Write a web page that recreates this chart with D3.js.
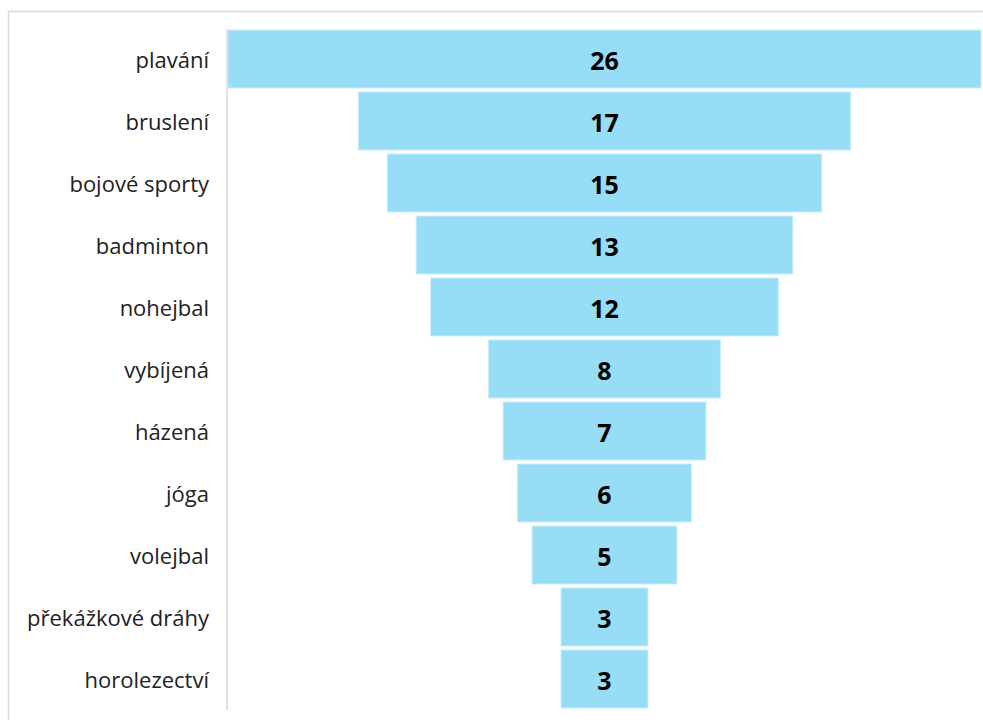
<!DOCTYPE html>
<html><head><meta charset="utf-8">
<script src="https://cdn.jsdelivr.net/npm/d3@7"></script>
<style>body{margin:0;background:#fff;} svg{display:block;}</style>
</head><body>
<script>
const categories = ["plavání","bruslení","bojové sporty","badminton","nohejbal","vybíjená","házená","jóga","volejbal","překážkové dráhy","horolezectví"];
const values = [26,17,15,13,12,8,7,6,5,3,3];

(function(){
const W = 983, H = 720;
const svg = d3.select("body").append("svg").attr("width", W).attr("height", H);

// frame
svg.append("rect").attr("x", 8.5).attr("y", 11.5).attr("width", W).attr("height", H)
  .attr("fill", "none").attr("stroke", "#d9d9d9").attr("stroke-width", 1.5);

const mLeft = 228, mRight = 981, mTop = 30, mBottom = 708;
const cx = (mLeft + mRight) / 2;
const y = d3.scaleBand().domain(categories).range([mTop, mBottom]).paddingInner(0.065).paddingOuter(0.0);
const w = d3.scaleLinear().domain([0, d3.max(values)]).range([0, mRight - mLeft]);

// axis line
svg.append("line").attr("x1", 227).attr("x2", 227).attr("y1", 29).attr("y2", 710)
  .attr("stroke", "#d9d9d9").attr("stroke-width", 1.5);

const g = svg.append("g");
g.selectAll("rect.bar").data(values).join("rect")
  .attr("class", "bar")
  .attr("x", d => cx - w(d) / 2)
  .attr("width", d => w(d))
  .attr("y", (d, i) => y(categories[i]))
  .attr("height", y.bandwidth())
  .attr("fill", "#97ddf5")
  .attr("stroke", "#c4ecfa").attr("stroke-width", 1);

g.selectAll("text.val").data(values).join("text")
  .attr("class", "val")
  .attr("x", cx)
  .attr("y", (d, i) => y(categories[i]) + y.bandwidth() / 2)
  .attr("dy", "0.44em")
  .attr("text-anchor", "middle")
  .attr("font-family", "'Open Sans', 'Noto Sans', sans-serif")
  .attr("font-weight", "bold")
  .attr("font-size", 25)
  .attr("fill", "#000")
  .text(d => d);

g.selectAll("text.cat").data(categories).join("text")
  .attr("class", "cat")
  .attr("x", 209)
  .attr("y", d => y(d) + y.bandwidth() / 2)
  .attr("dy", "0.41em")
  .attr("text-anchor", "end")
  .attr("font-family", "'Open Sans', 'Noto Sans', sans-serif")
  .attr("font-size", 22)
  .attr("fill", "#222")
  .text(d => d);
})();
</script>
</body></html>
